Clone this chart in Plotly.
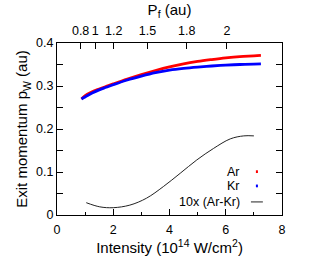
import plotly.graph_objects as go

# Data
intensity = [0.87, 1.0, 1.25, 1.5, 1.75, 2.0, 2.5, 3.0, 3.5, 4.0, 4.5, 5.0, 5.5, 6.0, 6.5, 7.0, 7.25]
ar = [0.270, 0.2775, 0.2865, 0.2930, 0.2990, 0.3048, 0.3160, 0.3265, 0.3360, 0.3445, 0.3515, 0.3570, 0.3615, 0.3655, 0.3685, 0.3700, 0.3710]
kr = [0.270, 0.2745, 0.2835, 0.2910, 0.2970, 0.3030, 0.3140, 0.3230, 0.3310, 0.3370, 0.3410, 0.3440, 0.3465, 0.3485, 0.3500, 0.3510, 0.3515]

diff_intensity = [1.04, 1.52, 2.0, 2.59, 3.18, 3.78, 4.38, 4.97, 5.57, 6.16, 6.64, 7.0]
diff_10x = [0.0286, 0.019, 0.017, 0.023, 0.039, 0.066, 0.097, 0.128, 0.155, 0.177, 0.184, 0.184]

pf_labels = ["0.8", "1", "1.2", "1.5", "1.8", "2"]
pf_positions = [0.84, 1.36, 2.02, 3.22, 4.61, 6.04]  # intensity where each Pf value sits

FONT = "Liberation Sans, Arial, sans-serif"
FS = 12.5

fig = go.Figure()
fig.add_trace(go.Scatter(x=intensity, y=ar, mode="lines", line=dict(color="#ff0000", width=2.8, shape="spline"),
                         showlegend=False))
fig.add_trace(go.Scatter(x=intensity, y=kr, mode="lines", line=dict(color="#0000ff", width=2.8, shape="spline"),
                         showlegend=False))
fig.add_trace(go.Scatter(x=diff_intensity, y=diff_10x, mode="lines", line=dict(color="#222222", width=1, shape="spline"),
                         showlegend=False))
# invisible trace to anchor top axis
fig.add_trace(go.Scatter(x=[pf_positions[0]], y=[None], xaxis="x2", mode="markers",
                         marker=dict(opacity=0), showlegend=False, hoverinfo="skip"))

fig.update_layout(
    width=310, height=278,
    margin=dict(l=57, r=28, t=43, b=63, autoexpand=False),
    paper_bgcolor="white", plot_bgcolor="white",
    font=dict(family=FONT, size=FS, color="black"),
    xaxis=dict(range=[0, 8], dtick=2, tick0=0, ticks="inside", ticklen=6, tickwidth=1, tickcolor="black",
               showline=True, linecolor="black", linewidth=1, mirror=True, showgrid=False, zeroline=False,
               minor=dict(dtick=1, ticks="inside", ticklen=3, tickcolor="black", showgrid=False),
               title=dict(text="Intensity (10<sup>14</sup> W/cm<sup>2</sup>)", standoff=4),
               tickfont=dict(size=FS), tickangle=0, automargin=False, ticklabelstandoff=3),
    xaxis2=dict(range=[0, 8], overlaying="x", side="top", tickmode="array", tickvals=pf_positions,
                ticktext=pf_labels, ticks="inside", ticklen=6, tickcolor="black", showgrid=False,
                zeroline=False, showline=False, tickangle=0, automargin=False, ticklabelstandoff=5,
                title=dict(text="P<sub>f</sub> (au)", standoff=4), tickfont=dict(size=FS)),
    yaxis=dict(range=[0, 0.4], dtick=0.1, tick0=0, ticks="inside", ticklen=6, tickcolor="black",
               showline=True, linecolor="black", linewidth=1, mirror="allticks", showgrid=False, zeroline=False,
               minor=dict(dtick=0.05, ticks="inside", ticklen=3, tickcolor="black", showgrid=False),
               tickformat="~g", automargin=False,
               title=dict(text="Exit momentum p<sub>W</sub> (au)", standoff=4), tickfont=dict(size=FS)),
)

# gnuplot-style key: text right-aligned, sample to the right
key_rows = [("Ar", 0.252, "dot", "#ff0000"), ("Kr", 0.169, "dot", "#0000ff"), ("10x (Ar-Kr)", 0.076, "line", "#222222")]
for label, yy, kind, col in key_rows:
    fig.add_annotation(text=label, xref="paper", yref="paper", x=0.822, y=yy, xanchor="right", yanchor="middle",
                       showarrow=False, font=dict(size=FS, family=FONT))
    if kind == "dot":
        fig.add_shape(type="rect", xref="paper", yref="paper", x0=0.884, x1=0.893, y0=yy - 0.008, y1=yy + 0.008,
                      fillcolor=col, line=dict(width=0))
    else:
        fig.add_shape(type="line", xref="paper", yref="paper", x0=0.862, x1=0.915, y0=yy, y1=yy,
                      line=dict(color=col, width=1))

fig.write_html("out.html", config={"displayModeBar": False},
               post_script="document.body.style.margin='0';document.body.style.padding='0';")
